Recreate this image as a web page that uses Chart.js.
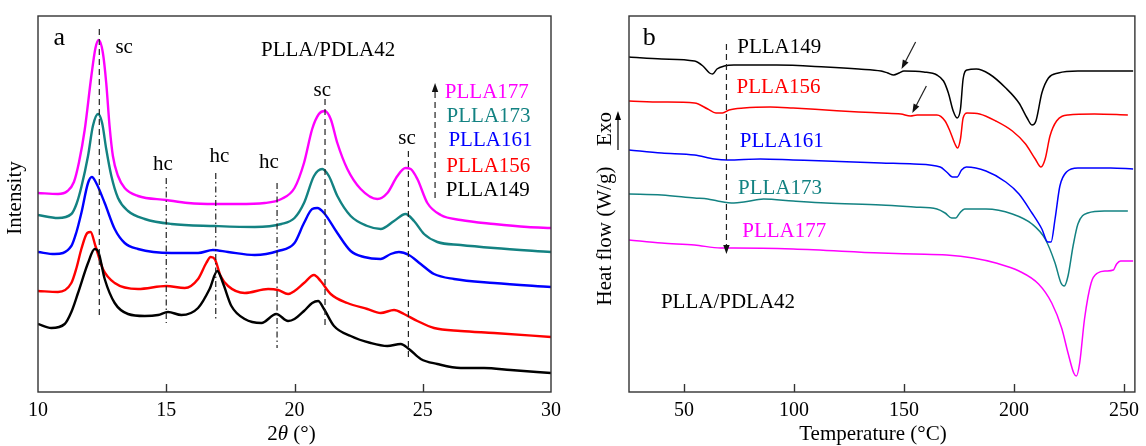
<!DOCTYPE html>
<html lang="en">
<head>
<meta charset="UTF-8">
<title>PLLA/PDLA42 - XRD and DSC</title>
<style>
  body { margin: 0; background: #fff; }
  #wrap { position: relative; width: 1146px; height: 446px; }
  canvas { position: absolute; top: 0; }
  #xrdChart { left: 0; }
  #dscChart { left: 573px; }
</style>
<script src="https://cdn.jsdelivr.net/npm/chart.js"></script>
</head>
<body>
<div id="wrap">
  <canvas id="xrdChart" width="573" height="446"></canvas>
  <canvas id="dscChart" width="573" height="446"></canvas>
</div>
<script>
// ---- samples ----
const sampleNames = ['PLLA149', 'PLLA156', 'PLLA161', 'PLLA173', 'PLLA177'];
const sampleColors = ['#000000', '#ff0000', '#0000ff', '#138282', '#ff00ff'];

// ---- (a) XRD, 2theta (deg) vs intensity (a.u., stacked) ----
const xrdTicks = [10, 15, 20, 25, 30];

const xrd149Angle = [10.0, 10.52, 11.04, 11.3, 11.56, 11.95, 12.21, 12.34, 12.6, 12.99, 13.51, 14.16, 14.68, 15.07, 15.59, 16.24, 16.69, 16.99, 17.21, 17.54, 18.06, 18.71, 19.29, 19.75, 20.0, 20.37, 20.69, 20.92, 21.15, 21.54, 22.19, 22.97, 23.62, 24.14, 24.46, 24.92, 25.57, 26.48, 27.39, 28.43, 30.0];
const xrd149Int = [68, 64, 68, 80, 99, 129, 143, 141, 113, 89, 78, 76, 77, 80, 77, 84, 103, 121, 109, 86, 73, 69, 78, 71, 73, 81, 89, 91, 83, 66, 56, 49, 46, 48, 43, 33, 28, 24, 24, 22, 19];

const xrd156Angle = [10.0, 10.78, 11.3, 11.5, 11.69, 11.92, 12.05, 12.24, 12.53, 12.99, 13.9, 15.0, 15.72, 16.24, 16.56, 16.73, 16.89, 17.12, 17.41, 18.06, 18.97, 19.36, 19.75, 20.0, 20.37, 20.76, 21.02, 21.41, 22.06, 22.84, 23.36, 23.88, 24.27, 24.79, 25.44, 26.48, 27.78, 30.0];
const xrd156Int = [101, 100, 109, 124, 143, 159, 160, 146, 123, 109, 103, 106, 104, 113, 129, 135, 133, 116, 106, 99, 103, 102, 98, 101, 109, 117, 111, 98, 89, 83, 79, 82, 78, 71, 64, 61, 59, 55];

const xrd161Angle = [10.0, 10.65, 11.3, 11.5, 11.69, 11.95, 12.1, 12.27, 12.6, 12.99, 13.38, 13.9, 15.2, 16.24, 16.82, 17.41, 18.45, 19.36, 20.0, 20.37, 20.69, 20.89, 21.15, 21.67, 22.19, 22.71, 23.36, 23.75, 24.07, 24.46, 24.92, 25.44, 26.22, 27.78, 30.0];
const xrd161Int = [140, 138, 146, 160, 179, 209, 215, 209, 189, 163, 149, 143, 139, 139, 142, 140, 137, 141, 149, 169, 183, 184, 179, 159, 141, 135, 133, 138, 140, 137, 128, 118, 113, 109, 105];

const xrd173Angle = [10.0, 10.78, 11.3, 11.5, 11.69, 11.95, 12.14, 12.34, 12.5, 12.66, 12.86, 13.12, 13.51, 14.16, 15.2, 16.89, 18.45, 19.49, 20.0, 20.37, 20.76, 21.08, 21.34, 21.67, 22.19, 22.84, 23.36, 23.88, 24.33, 24.66, 25.05, 25.57, 26.48, 27.78, 30.0];
const xrd173Int = [177, 174, 178, 188, 205, 236, 266, 278, 269, 243, 216, 194, 181, 173, 168, 166, 165, 168, 174, 189, 216, 223, 216, 196, 176, 166, 163, 171, 178, 171, 158, 150, 147, 144, 140];

const xrd177Angle = [10.0, 10.78, 11.15, 11.4, 11.6, 11.82, 12.08, 12.24, 12.37, 12.53, 12.66, 12.79, 12.92, 13.12, 13.38, 13.9, 15.0, 15.85, 16.89, 17.8, 18.84, 19.49, 20.0, 20.37, 20.69, 20.95, 21.18, 21.41, 21.67, 22.06, 22.58, 23.23, 23.62, 24.01, 24.33, 24.53, 24.79, 25.18, 25.7, 26.48, 27.78, 29.08, 30.0];
const xrd177Int = [199, 198, 201, 210, 230, 262, 316, 344, 352, 339, 309, 266, 236, 216, 204, 196, 192, 189, 188, 188, 189, 193, 204, 229, 263, 278, 281, 273, 249, 223, 203, 193, 199, 216, 224, 223, 213, 189, 177, 172, 168, 165, 164];

// ---- (b) DSC, temperature (C) vs heat flow (W/g, stacked) ----
const dscTicks = [50, 100, 150, 200, 250];

const dsc149Temp = [25, 39.9, 54.8, 58.6, 61.6, 63.0, 65.0, 68.3, 72.7, 92.1, 114.5, 129.4, 139.6, 142.6, 145.3, 147.8, 150.0, 159.0, 165, 168, 170.2, 172.4, 174.2, 175.7, 176.9, 178.7, 182.9, 188.8, 196.3, 202.3, 206, 208.2, 210, 212.7, 215.7, 220.2, 229.1, 254.2];
const dsc149Flow = [335, 333, 331, 326, 319, 318, 323, 326, 327, 327, 325, 323, 321, 319, 317, 319, 321, 320, 317, 311, 299, 281, 274, 283, 313, 322, 323, 318, 304, 289, 274, 267, 271, 299, 314, 319, 321, 321];

const dsc156Temp = [25, 39.9, 54.8, 60.8, 64.5, 67.5, 70.5, 77.2, 89.2, 99.6, 114.5, 129.4, 139.6, 148.6, 153, 156, 165, 168.7, 170.9, 173.2, 174.4, 175.7, 176.9, 178.7, 184.4, 191.8, 199.3, 205.3, 209.7, 212.3, 214.2, 216.4, 219.4, 224.6, 236.6, 251.8];
const dsc156Flow = [291, 290, 289, 283, 279, 279, 282, 284, 285, 284, 282, 280, 279, 278, 276, 277, 277, 271, 261, 248, 244, 253, 274, 279, 278, 271, 261, 248, 233, 225, 233, 256, 271, 277, 278, 277];

const dsc161Temp = [25, 39.9, 54.8, 63.8, 69.8, 84.7, 99.6, 114.5, 139.6, 154.5, 166.5, 169.4, 172.1, 174.2, 176.2, 178.4, 187.3, 196.3, 202.3, 208.2, 212.7, 215.4, 216.9, 218.7, 220.9, 223.9, 229.1, 244, 254.2];
const dsc161Flow = [242, 239, 237, 233, 232, 233, 232, 231, 229, 228, 225, 220, 215, 215, 222, 225, 221, 210, 198, 179, 163, 150, 150, 173, 206, 220, 224, 224, 223];

const dsc173Temp = [25, 39.9, 54.8, 60.8, 65.3, 72.7, 77.2, 86.2, 99.6, 114.5, 139.6, 154.5, 165, 168.7, 171.7, 173.6, 175.4, 177.6, 187.3, 199.3, 208.2, 214.2, 218.7, 221.4, 222.9, 224.6, 226.9, 229.1, 233.6, 241.1, 251.8];
const dsc173Flow = [198, 197, 194, 193, 191, 189, 190, 193, 191, 189, 187, 185, 183, 179, 174, 174, 179, 183, 183, 178, 168, 153, 129, 109, 106, 116, 146, 168, 179, 181, 181];

const dsc177Temp = [25, 39.9, 54.8, 66.8, 72.7, 99.6, 139.6, 154.5, 169.4, 181.4, 191.8, 202.3, 211.2, 217.2, 221.7, 224.6, 227.2, 228.4, 229.9, 232.1, 235.1, 238.1, 241.8, 245.2, 246.7, 248.5, 254.2];
const dsc177Flow = [152, 149, 147, 144, 144, 143, 139, 138, 137, 134, 129, 121, 108, 89, 64, 39, 19, 16, 29, 73, 109, 119, 121, 122, 128, 131, 131];

const xrdSeries = [[xrd149Angle, xrd149Int], [xrd156Angle, xrd156Int], [xrd161Angle, xrd161Int], [xrd173Angle, xrd173Int], [xrd177Angle, xrd177Int]];
const dscSeries = [[dsc149Temp, dsc149Flow], [dsc156Temp, dsc156Flow], [dsc161Temp, dsc161Flow], [dsc173Temp, dsc173Flow], [dsc177Temp, dsc177Flow]];

const SERIF = '"Liberation Serif", "Times New Roman", serif';
const DASH = [6, 4];
const DASH_DOT = [6, 3, 1.5, 3];

// draws a filled arrow head at (x2, y2) pointing away from (x1, y1)
function arrowHead(ctx, x1, y1, x2, y2, len, half) {
    const ang = Math.atan2(y2 - y1, x2 - x1);
    const bx = x2 - len * Math.cos(ang), by = y2 - len * Math.sin(ang);
    ctx.beginPath();
    ctx.moveTo(x2, y2);
    ctx.lineTo(bx + half * Math.sin(ang), by - half * Math.cos(ang));
    ctx.lineTo(bx - half * Math.sin(ang), by + half * Math.cos(ang));
    ctx.closePath();
    ctx.fill();
}

// frame, inward ticks, guide lines, arrows and labels of each panel
const annotate = {
    id: 'annotate',
    afterDatasetsDraw(chart, args, o) {
        const { ctx, chartArea: a } = chart;
        const sx = chart.scales.x, sy = chart.scales.y;
        const px = v => sx.getPixelForValue(v), py = v => sy.getPixelForValue(v);
        ctx.save();

        ctx.strokeStyle = '#222';
        ctx.fillStyle = '#111';
        ctx.lineWidth = 1.2;
        (o.guides || []).forEach(g => {
            ctx.setLineDash(g.dash);
            ctx.beginPath();
            ctx.moveTo(px(g.x), py(g.y1));
            ctx.lineTo(px(g.x), py(g.y2));
            ctx.stroke();
        });

        (o.arrows || []).forEach(r => {
            const x1 = px(r.x1), y1 = py(r.y1), x2 = px(r.x2), y2 = py(r.y2);
            const d = Math.hypot(x2 - x1, y2 - y1);
            const ex = x2 - (x2 - x1) / d * 6, ey = y2 - (y2 - y1) / d * 6;
            ctx.setLineDash(r.dash || []);
            ctx.beginPath();
            ctx.moveTo(x1, y1);
            ctx.lineTo(ex, ey);
            ctx.stroke();
            ctx.setLineDash([]);
            arrowHead(ctx, x1, y1, x2, y2, 9, 3.2);
        });
        ctx.setLineDash([]);

        (o.labels || []).forEach(l => {
            ctx.font = `${l.size || 21}px ${SERIF}`;
            ctx.fillStyle = l.color || '#000';
            ctx.textAlign = l.align || 'center';
            ctx.textBaseline = 'alphabetic';
            ctx.fillText(l.text, px(l.x), py(l.y));
        });

        // box and inward ticks
        ctx.strokeStyle = '#333';
        ctx.lineWidth = 1.4;
        ctx.strokeRect(a.left, a.top, a.right - a.left, a.bottom - a.top);
        sx.ticks.forEach(t => {
            if (t.value <= sx.min || t.value >= sx.max) return;
            const x = Math.round(px(t.value)) + 0.5;
            ctx.beginPath();
            ctx.moveTo(x, a.bottom);
            ctx.lineTo(x, a.bottom - 8);
            ctx.stroke();
        });

        // axis titles
        ctx.fillStyle = '#000';
        ctx.textBaseline = 'alphabetic';
        const xt = o.xTitle;
        let w = 0;
        xt.parts.forEach(p => {
            ctx.font = `${p.italic ? 'italic ' : ''}21px ${SERIF}`;
            w += ctx.measureText(p.text).width;
        });
        let cx = (a.left + a.right) / 2 + xt.dx - w / 2;
        ctx.textAlign = 'left';
        xt.parts.forEach(p => {
            ctx.font = `${p.italic ? 'italic ' : ''}21px ${SERIF}`;
            ctx.fillText(p.text, cx, a.bottom + 48);
            cx += ctx.measureText(p.text).width;
        });

        ctx.font = `21px ${SERIF}`;
        ctx.textAlign = 'center';
        ctx.textBaseline = 'middle';
        (o.yTitles || []).forEach(t => {
            ctx.save();
            ctx.translate(a.left + t.dx, a.top + t.cy);
            ctx.rotate(-Math.PI / 2);
            ctx.fillText(t.text, 0, 0);
            ctx.restore();
        });
        if (o.exoArrow) {
            const ax = a.left + o.exoArrow.dx;
            ctx.strokeStyle = '#000';
            ctx.lineWidth = 1.2;
            ctx.beginPath();
            ctx.moveTo(ax, a.top + o.exoArrow.y1);
            ctx.lineTo(ax, a.top + o.exoArrow.y2 + 6);
            ctx.stroke();
            ctx.fillStyle = '#000';
            arrowHead(ctx, ax, a.top + o.exoArrow.y1, ax, a.top + o.exoArrow.y2, 9, 3);
        }
        ctx.restore();
    }
};

function makeDatasets(series, width) {
    return series.map((s, i) => ({
        label: sampleNames[i],
        data: s[0].map((v, k) => ({ x: v, y: s[1][k] })),
        borderColor: sampleColors[i],
        borderWidth: width,
        pointRadius: 0,
        fill: false,
        cubicInterpolationMode: 'monotone'
    }));
}

function xAxis(min, max, ticks) {
    return {
        type: 'linear',
        min: min,
        max: max,
        grid: { display: false, drawTicks: false },
        border: { display: false },
        ticks: { color: '#000', padding: 7, maxRotation: 0, font: { family: SERIF, size: 20 } },
        afterBuildTicks: s => { s.ticks = ticks.map(v => ({ value: v })); },
        afterFit: s => { s.height = 54; }
    };
}

// ---- panel a ----
new Chart(document.getElementById('xrdChart'), {
    type: 'line',
    data: { datasets: makeDatasets(xrdSeries, 2.4) },
    options: {
        responsive: false,
        animation: false,
        layout: { padding: { left: 38, right: 22, top: 16, bottom: 0 } },
        scales: {
            x: xAxis(10, 30, xrdTicks),
            y: { display: false, min: 0, max: 376 }
        },
        plugins: {
            legend: { display: false },
            tooltip: { enabled: false },
            annotate: {
                guides: [
                    { x: 12.39, y1: 77, y2: 363, dash: DASH },
                    { x: 15.0, y1: 214, y2: 69, dash: DASH_DOT },
                    { x: 16.93, y1: 219, y2: 73, dash: DASH_DOT },
                    { x: 19.32, y1: 209, y2: 44, dash: DASH_DOT },
                    { x: 21.19, y1: 293, y2: 63, dash: DASH },
                    { x: 24.44, y1: 241, y2: 33, dash: DASH }
                ],
                arrows: [
                    { x1: 25.48, y1: 194, x2: 25.48, y2: 309, dash: DASH }
                ],
                labels: [
                    { text: 'a', x: 10.83, y: 347, size: 26 },
                    { text: 'sc', x: 13.36, y: 339 },
                    { text: 'hc', x: 14.87, y: 222 },
                    { text: 'hc', x: 17.07, y: 230 },
                    { text: 'hc', x: 19.0, y: 224 },
                    { text: 'sc', x: 21.08, y: 296 },
                    { text: 'sc', x: 24.39, y: 248 },
                    { text: 'PLLA/PDLA42', x: 21.31, y: 336 },
                    { text: sampleNames[4], x: 25.86, y: 294, color: sampleColors[4], align: 'left' },
                    { text: sampleNames[3], x: 25.93, y: 270, color: sampleColors[3], align: 'left' },
                    { text: sampleNames[2], x: 26.0, y: 246, color: sampleColors[2], align: 'left' },
                    { text: sampleNames[1], x: 25.92, y: 220, color: sampleColors[1], align: 'left' },
                    { text: sampleNames[0], x: 25.9, y: 196, color: sampleColors[0], align: 'left' }
                ],
                xTitle: { dx: -3, parts: [{ text: '2' }, { text: 'θ', italic: true }, { text: ' (°)' }] },
                yTitles: [{ text: 'Intensity', dx: -23, cy: 182 }]
            }
        }
    },
    plugins: [annotate]
});

// ---- panel b ----
new Chart(document.getElementById('dscChart'), {
    type: 'line',
    data: { datasets: makeDatasets(dscSeries, 1.5) },
    options: {
        responsive: false,
        animation: false,
        layout: { padding: { left: 56, right: 5, top: 16, bottom: 0 } },
        scales: {
            x: xAxis(25, 255, dscTicks),
            y: { display: false, min: 0, max: 376 }
        },
        plugins: {
            legend: { display: false },
            tooltip: { enabled: false },
            annotate: {
                arrows: [
                    { x1: 69.3, y1: 348, x2: 69.3, y2: 138, dash: DASH },
                    { x1: 155.3, y1: 350, x2: 148.9, y2: 323 },
                    { x1: 160.2, y1: 306, x2: 153.8, y2: 279 }
                ],
                labels: [
                    { text: 'b', x: 34.2, y: 347, size: 26 },
                    { text: sampleNames[0], x: 74.2, y: 339, color: sampleColors[0], align: 'left' },
                    { text: sampleNames[1], x: 73.9, y: 299, color: sampleColors[1], align: 'left' },
                    { text: sampleNames[2], x: 75.4, y: 245, color: sampleColors[2], align: 'left' },
                    { text: sampleNames[3], x: 74.6, y: 198, color: sampleColors[3], align: 'left' },
                    { text: sampleNames[4], x: 76.5, y: 155, color: sampleColors[4], align: 'left' },
                    { text: 'PLLA/PDLA42', x: 39.5, y: 84, align: 'left' }
                ],
                xTitle: { dx: -9, parts: [{ text: 'Temperature (°C)' }] },
                yTitles: [
                    { text: 'Heat flow (W/g)', dx: -24, cy: 220 },
                    { text: 'Exo', dx: -24, cy: 113 }
                ],
                exoArrow: { dx: -11, y1: 134, y2: 95 }
            }
        }
    },
    plugins: [annotate]
});
</script>
</body>
</html>
